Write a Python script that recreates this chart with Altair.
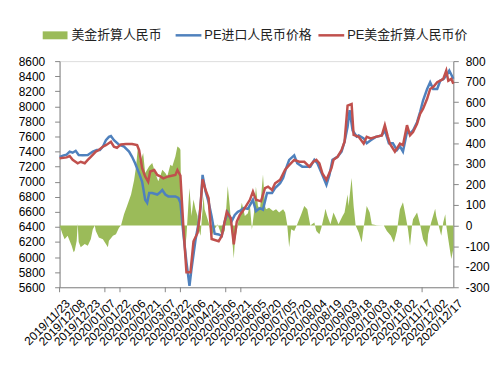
import altair as alt
import pandas as pd

FONT = "Liberation Sans"
CJK = "Liberation Sans, Noto Sans CJK SC"
GREEN = "#9BBB59"
BLUE = "#4F81BD"
RED = "#C0504D"
AXIS_GRAY = "#868686"

# ---- data ----
blue_dates = ["2019-11-23","2019-11-27","2019-11-30","2019-12-03","2019-12-06","2019-12-09","2019-12-12",
              "2019-12-16","2019-12-21","2019-12-26","2019-12-30","2020-01-02","2020-01-05","2020-01-08",
              "2020-01-11","2020-01-13","2020-01-16","2020-01-21","2020-01-26","2020-01-31","2020-02-03",
              "2020-02-06","2020-02-10","2020-02-13","2020-02-16","2020-02-18","2020-02-20","2020-02-23",
              "2020-02-28","2020-03-01","2020-03-04","2020-03-07","2020-03-10","2020-03-17","2020-03-20",
              "2020-03-22","2020-03-25","2020-03-28","2020-03-31","2020-04-02","2020-04-06","2020-04-09",
              "2020-04-11","2020-04-13","2020-04-16","2020-04-19","2020-04-22","2020-04-25","2020-04-29",
              "2020-05-02","2020-05-05","2020-05-08","2020-05-12","2020-05-15","2020-05-18","2020-05-21",
              "2020-05-24","2020-05-28","2020-06-02","2020-06-05","2020-06-09","2020-06-12","2020-06-16",
              "2020-06-21","2020-06-24","2020-06-29","2020-07-02","2020-07-05","2020-07-08","2020-07-13",
              "2020-07-16","2020-07-21","2020-07-29","2020-08-02","2020-08-05","2020-08-10","2020-08-14",
              "2020-08-17","2020-08-20","2020-08-25","2020-08-29","2020-09-01","2020-09-04","2020-09-06",
              "2020-09-09","2020-09-13","2020-09-15","2020-09-20","2020-09-23","2020-09-27","2020-10-02",
              "2020-10-08","2020-10-11","2020-10-15","2020-10-19","2020-10-23","2020-10-26","2020-10-29",
              "2020-11-02","2020-11-05","2020-11-08","2020-11-12","2020-11-15","2020-11-18","2020-11-22",
              "2020-11-25","2020-11-28","2020-12-02","2020-12-05","2020-12-08","2020-12-11","2020-12-14",
              "2020-12-18"]
blue_values = [7330,7350,7360,7400,7385,7410,7355,
               7350,7355,7400,7420,7420,7465,7550,
               7595,7605,7550,7490,7465,7400,7330,
               7245,7110,7000,6760,6720,6850,6850,
               6830,6850,6890,6830,6805,6805,6785,
               6720,6300,5930,5620,5840,6230,6450,
               6670,7090,6870,6730,6540,6310,6300,
               6280,6470,6590,6480,6560,6600,6620,
               6650,6640,6760,6610,6650,6630,6850,
               6850,6915,6980,7050,7180,7290,7350,
               7245,7200,7200,7290,7245,7090,6960,
               7090,7290,7330,7400,7530,7730,7950,
               7680,7600,7615,7575,7510,7550,7595,
               7615,7680,7510,7510,7420,7470,7400,
               7660,7640,7680,7790,7925,8080,8230,
               8320,8230,8230,8340,8360,8405,8475,
               8365]

red_dates = ["2019-11-23","2019-11-30","2019-12-03","2019-12-06","2019-12-11","2019-12-14","2019-12-18",
             "2019-12-21","2019-12-24","2019-12-29","2020-01-01","2020-01-05","2020-01-08","2020-01-13",
             "2020-01-16","2020-01-19","2020-01-23","2020-01-28","2020-02-03","2020-02-08","2020-02-10",
             "2020-02-13","2020-02-16","2020-02-19","2020-02-21","2020-02-25","2020-02-28","2020-03-02",
             "2020-03-05","2020-03-10","2020-03-17","2020-03-19","2020-03-22","2020-03-25","2020-03-28",
             "2020-04-01","2020-04-04","2020-04-08","2020-04-10","2020-04-13","2020-04-16","2020-04-19",
             "2020-04-22","2020-04-29","2020-05-02","2020-05-07","2020-05-11","2020-05-14","2020-05-17",
             "2020-05-20","2020-05-23","2020-05-30","2020-06-02","2020-06-05","2020-06-10","2020-06-14",
             "2020-06-17","2020-06-21","2020-06-24","2020-06-29","2020-07-04","2020-07-08","2020-07-13",
             "2020-07-18","2020-07-23","2020-07-28","2020-08-01","2020-08-04","2020-08-07","2020-08-10",
             "2020-08-14","2020-08-19","2020-08-21","2020-08-25","2020-08-29","2020-09-01","2020-09-04",
             "2020-09-08","2020-09-10","2020-09-15","2020-09-20","2020-09-23","2020-09-27","2020-10-02",
             "2020-10-08","2020-10-11","2020-10-14","2020-10-16","2020-10-21","2020-10-26","2020-10-29",
             "2020-11-02","2020-11-05","2020-11-08","2020-11-12","2020-11-15","2020-11-18","2020-11-22",
             "2020-11-25","2020-11-28","2020-12-02","2020-12-05","2020-12-08","2020-12-11","2020-12-13",
             "2020-12-16","2020-12-18"]
red_values = [7310,7323,7340,7290,7245,7265,7245,
              7290,7330,7400,7420,7465,7485,7530,
              7465,7450,7495,7500,7500,7485,7420,
              7180,7070,7000,7135,7155,7090,7070,
              7045,7070,7090,7155,7080,6390,5800,
              5800,6210,6320,6520,7030,6890,6780,
              6240,6210,6280,6600,6520,6170,6470,
              6560,6610,6760,6870,6760,6740,6915,
              6935,6890,6980,7025,7160,7220,7290,
              7265,7265,7200,7265,7290,7245,7110,
              7025,7180,7290,7330,7420,7530,8010,
              8030,7620,7595,7505,7595,7575,7595,
              7615,7750,7595,7505,7400,7505,7485,
              7750,7615,7660,7770,7900,7970,8100,
              8230,8255,8320,8340,8365,8475,8340,
              8365,8300]

green_dates = ["2019-11-23","2019-11-26","2019-11-28","2019-12-01","2019-12-03","2019-12-05","2019-12-07",
               "2019-12-08","2019-12-10","2019-12-11","2019-12-12","2019-12-14","2019-12-18","2019-12-21",
               "2019-12-24","2019-12-26","2019-12-28","2019-12-29","2020-01-01","2020-01-05","2020-01-08",
               "2020-01-10","2020-01-11","2020-01-15","2020-01-18","2020-01-21","2020-01-23","2020-01-26",
               "2020-01-29","2020-02-02","2020-02-05","2020-02-07","2020-02-09","2020-02-11","2020-02-14",
               "2020-02-16","2020-02-20","2020-02-23","2020-02-26","2020-02-29","2020-03-02","2020-03-04",
               "2020-03-07","2020-03-09","2020-03-12","2020-03-14","2020-03-17","2020-03-19","2020-03-21",
               "2020-03-22","2020-03-23","2020-03-25","2020-03-27","2020-03-28","2020-03-30","2020-03-31",
               "2020-04-02","2020-04-04","2020-04-06","2020-04-08","2020-04-09","2020-04-11","2020-04-14",
               "2020-04-15","2020-04-19","2020-04-22","2020-04-25","2020-04-28","2020-05-02","2020-05-05",
               "2020-05-08","2020-05-10","2020-05-13","2020-05-14","2020-05-15","2020-05-18","2020-05-22",
               "2020-05-25","2020-05-28","2020-05-30","2020-06-01","2020-06-03","2020-06-05","2020-06-07",
               "2020-06-09","2020-06-12","2020-06-14","2020-06-15","2020-06-18","2020-06-22","2020-06-25",
               "2020-06-28","2020-07-02","2020-07-04","2020-07-06","2020-07-08","2020-07-10","2020-07-13",
               "2020-07-16","2020-07-20","2020-07-23","2020-07-26","2020-07-29","2020-08-02","2020-08-04",
               "2020-08-07","2020-08-09","2020-08-12","2020-08-13","2020-08-15","2020-08-18","2020-08-21",
               "2020-08-24","2020-08-26","2020-08-30","2020-09-01","2020-09-04","2020-09-05","2020-09-08",
               "2020-09-10","2020-09-12","2020-09-15","2020-09-18","2020-09-19","2020-09-23","2020-09-26",
               "2020-09-28","2020-10-03","2020-10-10","2020-10-13","2020-10-17","2020-10-20","2020-10-23",
               "2020-10-26","2020-10-29","2020-10-31","2020-11-03","2020-11-05","2020-11-07","2020-11-08",
               "2020-11-12","2020-11-15","2020-11-18","2020-11-22","2020-11-23","2020-11-26","2020-11-30",
               "2020-12-01","2020-12-04","2020-12-06","2020-12-08","2020-12-10","2020-12-11","2020-12-13",
               "2020-12-16","2020-12-18"]
green_values = [0,-42,-66,-50,-74,-98,-130,
                -122,-74,10,-80,-106,-90,-98,
                -66,-18,0,-26,-58,-66,-90,
                -106,-74,-50,-42,-10,0,55,
                95,151,220,288,393,304,353,
                256,288,304,256,216,240,272,
                256,240,296,288,336,385,377,
                369,60,0,-98,-50,111,183,
                47,127,79,47,-18,-50,143,
                79,15,-50,-18,6,-50,-26,
                192,95,-100,-160,-82,6,111,
                47,60,100,-20,60,190,95,
                79,248,95,79,87,71,79,
                63,79,63,6,-106,-18,-26,
                6,55,95,79,0,15,-26,
                -42,-10,55,82,47,6,63,
                31,6,47,63,151,95,232,
                95,0,-34,-82,-42,95,63,
                6,2,0,-26,-50,-82,-26,
                79,114,63,-18,-98,0,31,
                63,6,-66,-106,-42,15,82,
                47,-10,-50,15,55,0,-66,
                -163,-114]

label_dates = ["2019-11-23","2019-12-08","2019-12-23","2020-01-07","2020-01-22","2020-02-06","2020-02-21",
               "2020-03-07","2020-03-22","2020-04-06","2020-04-21","2020-05-06","2020-05-21","2020-06-05",
               "2020-06-20","2020-07-05","2020-07-20","2020-08-04","2020-08-19","2020-09-03","2020-09-18",
               "2020-10-03","2020-10-18","2020-11-02","2020-11-17","2020-12-02","2020-12-17"]
tick_dates = ["2019-11-23","2020-01-07","2020-01-22","2020-03-07","2020-03-22","2020-05-06","2020-05-21",
              "2020-11-17"]
left_ticks = list(range(5600, 8601, 200))
right_ticks = list(range(-300, 801, 100))

series_green = "美金折算人民币"
series_blue = "PE进口人民币价格"
series_red = "PE美金折算人民币价"

# ---- tables ----
df_green = pd.DataFrame({"date": green_dates, "v": green_values})
df_blue = pd.DataFrame({"date": blue_dates, "v": blue_values})
df_red = pd.DataFrame({"date": red_dates, "v": red_values})
df_ticks = pd.DataFrame({"date": tick_dates})


def ms(d):
    return int(pd.Timestamp(d, tz="UTC").timestamp() * 1000)


x_scale = alt.Scale(type="utc", domain=[ms("2019-11-23"), ms("2020-12-18")], nice=False)
x_axis = alt.Axis(values=[ms(d) for d in label_dates], format="%Y/%m/%d", labelAngle=-45,
                  labelAlign="right", labelBaseline="middle", ticks=False, tickSize=0,
                  labelPadding=14, labelOffset=8, grid=False, title=None,
                  domainColor=AXIS_GRAY, labelFont=FONT, labelFontSize=12, labelColor="#000",
                  labelOverlap=False, labelBound=False, labelFlush=False)


def xenc():
    return alt.X("date:T", scale=x_scale, axis=x_axis)


area = alt.Chart(df_green).mark_area(color=GREEN, interpolate="linear").encode(
    x=xenc(),
    y=alt.Y("v:Q", scale=alt.Scale(domain=[-300, 800], nice=False, zero=False),
            axis=alt.Axis(orient="right", values=right_ticks,
                          labelExpr="(datum.value < 0 ? '-' : '') + abs(datum.value)",
                          grid=False, title=None,
                          tickSize=5, labelPadding=7, domainColor=AXIS_GRAY, tickColor=AXIS_GRAY,
                          labelFont=FONT, labelFontSize=12, labelColor="#000")),
    y2=alt.datum(0),
)

left_axis = alt.Axis(orient="left", values=left_ticks, format="d", grid=False, title=None, tickSize=5,
                     labelPadding=10, domainColor=AXIS_GRAY, tickColor=AXIS_GRAY,
                     labelFont=FONT, labelFontSize=12, labelColor="#000")
left_scale = alt.Scale(domain=[5600, 8600], nice=False, zero=False)

blue = alt.Chart(df_blue).mark_line(color=BLUE, strokeWidth=2.5).encode(
    x=xenc(), y=alt.Y("v:Q", scale=left_scale, axis=left_axis))
red = alt.Chart(df_red).mark_line(color=RED, strokeWidth=2.5).encode(
    x=xenc(), y=alt.Y("v:Q", scale=left_scale, axis=left_axis))

lines = alt.layer(blue, red)

ticks = alt.Chart(df_ticks).mark_rule(color=AXIS_GRAY, strokeWidth=1).encode(
    x=xenc(), y=alt.value(228), y2=alt.value(233))

# ---- manual legend ----
one = pd.DataFrame({"k": [0]})
leg_green = alt.Chart(one).mark_rect(color=GREEN).encode(
    x=alt.value(-17), x2=alt.value(8), y=alt.value(-30), y2=alt.value(-22))
leg_blue = alt.Chart(one).mark_rule(color=BLUE, strokeWidth=2.5).encode(
    x=alt.value(117), x2=alt.value(143), y=alt.value(-26))
leg_red = alt.Chart(one).mark_rule(color=RED, strokeWidth=2.5).encode(
    x=alt.value(261), x2=alt.value(287), y=alt.value(-26))
leg_t1 = alt.Chart(one).mark_text(text=series_green, font=CJK, fontSize=13, align="left",
                                  baseline="middle", color="#222").encode(
    x=alt.value(12), y=alt.value(-26))
leg_t2 = alt.Chart(one).mark_text(text=series_blue, font=CJK, fontSize=13, align="left",
                                  baseline="middle", color="#222").encode(
    x=alt.value(146), y=alt.value(-26))
leg_t3 = alt.Chart(one).mark_text(text=series_red, font=CJK, fontSize=13, align="left",
                                  baseline="middle", color="#222").encode(
    x=alt.value(290), y=alt.value(-26))

chart = alt.layer(area, lines, ticks, leg_green, leg_blue, leg_red, leg_t1, leg_t2, leg_t3).resolve_scale(
    y="independent"
).properties(
    width=397, height=228,
    autosize=alt.AutoSizeParams(type="none"),
    padding={"left": 52, "top": 52, "right": 38, "bottom": 96},
).configure_view(stroke=None).configure(background="white")

chart.save("out.html", embed_options={"renderer": "svg", "actions": False})
